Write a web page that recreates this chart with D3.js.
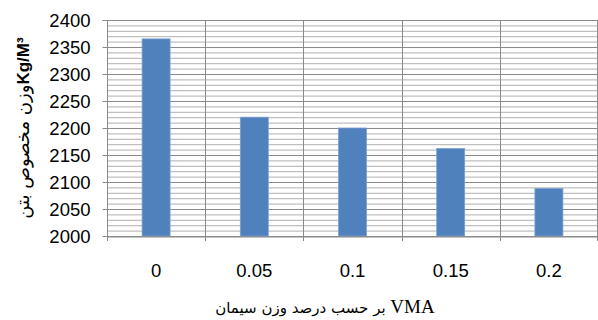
<!DOCTYPE html>
<html><head><meta charset="utf-8">
<script src="https://cdn.jsdelivr.net/npm/d3@7"></script>
<style>body{margin:0;background:#fff}svg{display:block}</style>
</head><body>
<svg id="c" width="598" height="320"></svg>
<script>
const categories = ["0", "0.05", "0.1", "0.15", "0.2"];
const values = [2365, 2220, 2200, 2162, 2088];
const yTicks = [2000, 2050, 2100, 2150, 2200, 2250, 2300, 2350, 2400];
const minorTicks = d3.range(2000, 2401, 10);
const yLabelAr = "وزن مخصوص بتن";
const yLabelUnit = "Kg/M³";
const xLabelAr = "بر حسب درصد وزن سیمان";
const xLabelLat = "VMA";

const svg = d3.select("#c");
const L = 107, R = 598, T = 20, B = 236;
const x = d3.scaleBand().domain(categories).range([L, R]).paddingInner(0).paddingOuter(0);
const y = d3.scaleLinear().domain([2000, 2400]).range([B, T]);

// minor gridlines
svg.append("g").selectAll("line").data(minorTicks.filter(v => v % 50 !== 0)).join("line")
  .attr("x1", L).attr("x2", R).attr("y1", d => y(d) + 0.5).attr("y2", d => y(d) + 0.5)
  .attr("stroke", "#b0b0b0").attr("stroke-width", 1);
// major gridlines
svg.append("g").selectAll("line").data(yTicks).join("line")
  .attr("x1", L).attr("x2", R).attr("y1", d => y(d) + 0.5).attr("y2", d => y(d) + 0.5)
  .attr("stroke", "#8a8a8a").attr("stroke-width", 1);
// vertical gridlines at category boundaries
const bounds = categories.map(c => x(c)).concat([R - 1]);
svg.append("g").selectAll("line").data(bounds.slice(1)).join("line")
  .attr("x1", d => Math.round(d) + 0.5).attr("x2", d => Math.round(d) + 0.5).attr("y1", T).attr("y2", B)
  .attr("stroke", "#8a8a8a").attr("stroke-width", 1);

// bars
const bw = x.bandwidth() * 0.285;
svg.append("g").selectAll("rect").data(values).join("rect")
  .attr("x", (d, i) => x(categories[i]) + x.bandwidth() / 2 - bw / 2)
  .attr("y", d => y(d))
  .attr("width", bw)
  .attr("height", d => y(2000) - y(d))
  .attr("fill", "#4f81bd")
  .attr("stroke", "#7d9fcf").attr("stroke-width", 0.8);

// y axis
const yAxis = d3.axisLeft(y).tickValues(yTicks).tickSize(5).tickPadding(12).tickFormat(d3.format("d"));
const gy = svg.append("g").attr("transform", `translate(${L + 0.5},0)`).call(yAxis);
gy.select(".domain").attr("stroke", "#8a8a8a").attr("d", `M-5,${T + 0.5}H0V${B + 0.5}`);
gy.selectAll(".tick line").attr("stroke", "#8a8a8a");
gy.selectAll(".tick text").attr("font-family", "Liberation Sans, Arial, sans-serif")
  .attr("font-size", 18.5).attr("fill", "#000").attr("dy", "0.36em");

// x axis
const xAxis = d3.axisBottom(x).tickSize(0).tickPadding(27);
const gx = svg.append("g").attr("transform", `translate(0,${B + 0.5})`).call(xAxis);
gx.select(".domain").attr("stroke", "#8a8a8a");
gx.selectAll(".tick text").attr("font-family", "Liberation Sans, Arial, sans-serif")
  .attr("font-size", 18.5).attr("fill", "#000");
svg.append("g").selectAll("line").data(bounds).join("line")
  .attr("x1", d => Math.round(d) + 0.5).attr("x2", d => Math.round(d) + 0.5)
  .attr("y1", B).attr("y2", B + 5).attr("stroke", "#8a8a8a");

// y label
const yl = svg.append("text").attr("transform", "translate(29,128) rotate(-90)")
  .attr("text-anchor", "middle").attr("fill", "#000");
yl.append("tspan").attr("font-family", "DejaVu Sans, sans-serif").attr("font-size", 18).text(yLabelAr);
yl.append("tspan").attr("font-family", "Liberation Sans, Arial, sans-serif").attr("font-weight", "bold").attr("font-size", 17).text(yLabelUnit);

// x label
const xl = svg.append("text").attr("x", 325).attr("y", 313).attr("text-anchor", "middle").attr("fill", "#000");
xl.append("tspan").attr("font-family", "DejaVu Sans, sans-serif").attr("font-size", 15).text(xLabelAr + " ");
xl.append("tspan").attr("font-family", "Liberation Serif, Times New Roman, serif").attr("font-size", 19).text(xLabelLat);
</script>
</body></html>
